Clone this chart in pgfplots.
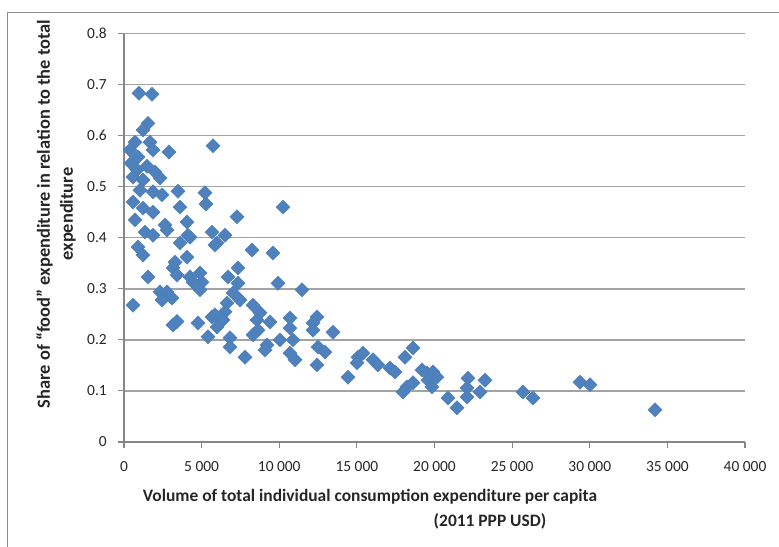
\documentclass[border=0pt]{standalone}
\usepackage{pgfplots}
\pgfplotsset{compat=1.18}
\usepackage{fontspec}
\setmainfont{Carlito}
\definecolor{markblue}{HTML}{4F81BD}
\definecolor{markedge}{HTML}{4A7EBB}
\definecolor{gridgray}{HTML}{A3A3A3}
\definecolor{axisgray}{HTML}{868686}
\definecolor{framegray}{HTML}{8C8C8C}
\pgfplotstableread{
x y
966 0.683
1803 0.681
1546 0.624
1224 0.611
709 0.587
1675 0.587
386 0.572
1868 0.572
2898 0.568
902 0.558
451 0.546
1481 0.540
837 0.533
1997 0.529
580 0.519
1224 0.513
2319 0.517
1031 0.493
1868 0.490
2448 0.484
580 0.470
1224 0.458
1868 0.450
709 0.435
2641 0.425
1353 0.411
1868 0.405
2770 0.415
902 0.382
1224 0.366
3478 0.491
5217 0.488
3607 0.460
5282 0.466
4058 0.431
4251 0.401
5668 0.411
4122 0.405
3607 0.390
5990 0.390
4058 0.362
3285 0.352
3156 0.341
1546 0.323
3414 0.327
4251 0.323
4895 0.331
5024 0.313
4444 0.313
4895 0.298
2319 0.294
2770 0.294
3092 0.282
2448 0.278
580 0.268
3156 0.229
3414 0.236
4766 0.233
5668 0.245
5990 0.225
5410 0.206
6505 0.405
5861 0.386
7278 0.441
8244 0.376
9597 0.370
6699 0.323
7343 0.341
7343 0.311
9919 0.311
7021 0.292
7472 0.278
8309 0.268
6634 0.272
6505 0.255
5861 0.249
6377 0.239
6828 0.204
6828 0.186
8760 0.253
8567 0.239
9404 0.235
8631 0.219
8309 0.210
10692 0.243
10692 0.223
10048 0.200
9211 0.190
9082 0.180
10885 0.200
10692 0.174
11014 0.161
7794 0.166
11465 0.298
5732 0.580
10241 0.460
12431 0.245
12174 0.233
12174 0.219
13462 0.215
12496 0.186
12947 0.176
12431 0.151
14428 0.127
15072 0.166
15394 0.174
15008 0.155
16038 0.161
16360 0.151
17133 0.145
17455 0.137
18099 0.166
17970 0.098
18228 0.108
18614 0.184
19194 0.141
19516 0.135
19903 0.137
20160 0.127
19581 0.121
19838 0.108
18614 0.116
20869 0.086
21448 0.067
22157 0.125
22093 0.106
23252 0.121
22930 0.098
22093 0.088
25700 0.098
26344 0.086
29371 0.117
30015 0.112
34202 0.063
}\foodshare
\begin{document}
\begin{tikzpicture}
\useasboundingbox (0,0) rectangle (779bp,547bp);
\draw[framegray, line width=0.8bp] (7bp,0) -- (7bp,535bp) -- (779bp,535bp);
\begin{axis}[
  at={(124bp,105bp)}, anchor=south west,
  scale only axis, width=621bp, height=408.5bp,
  xmin=0, xmax=40000, ymin=0, ymax=0.8,
  scaled x ticks=false, scaled y ticks=false,
  axis x line*=bottom, axis y line*=left,
  axis line style={axisgray, line width=1.1bp},
  tick style={axisgray, line width=1.1bp},
  tick align=outside, major tick length=6bp,
  ymajorgrids, grid style={gridgray, line width=1.4bp},
  xtick={0,5000,10000,15000,20000,25000,30000,35000,40000},
  xticklabels={0,5 000,10 000,15 000,20 000,25 000,30 000,35 000,40 000},
  ytick={0,0.1,0.2,0.3,0.4,0.5,0.6,0.7,0.8},
  yticklabels={0,0.1,0.2,0.3,0.4,0.5,0.6,0.7,0.8},
  ticklabel style={font=\fontsize{15.5}{18}\selectfont, text=black!85},
  xticklabel style={anchor=north, inner sep=0pt, yshift=-13bp},
  yticklabel style={anchor=east, inner sep=0pt, xshift=-11bp},
  clip=false,
]
\addplot[only marks, mark=square*, mark size=5bp,
  mark options={rotate=45, fill=markblue, draw=markedge, line width=0.4bp}]
  table[x=x, y=y] {\foodshare};
\end{axis}
\node[font=\bfseries\fontsize{17.5}{20}\selectfont, text=black!85] at (370bp,50bp) {Volume of total individual consumption expenditure per capita};
\node[font=\bfseries\fontsize{17.5}{20}\selectfont, text=black!85] at (490bp,26bp) {(2011 PPP USD)};
\node[rotate=90, align=center, font=\bfseries\fontsize{18.5}{23}\selectfont, text=black!85] at (56bp,333bp) {Share of “food” expenditure in relation to the total\\expenditure};
\end{tikzpicture}
\end{document}
